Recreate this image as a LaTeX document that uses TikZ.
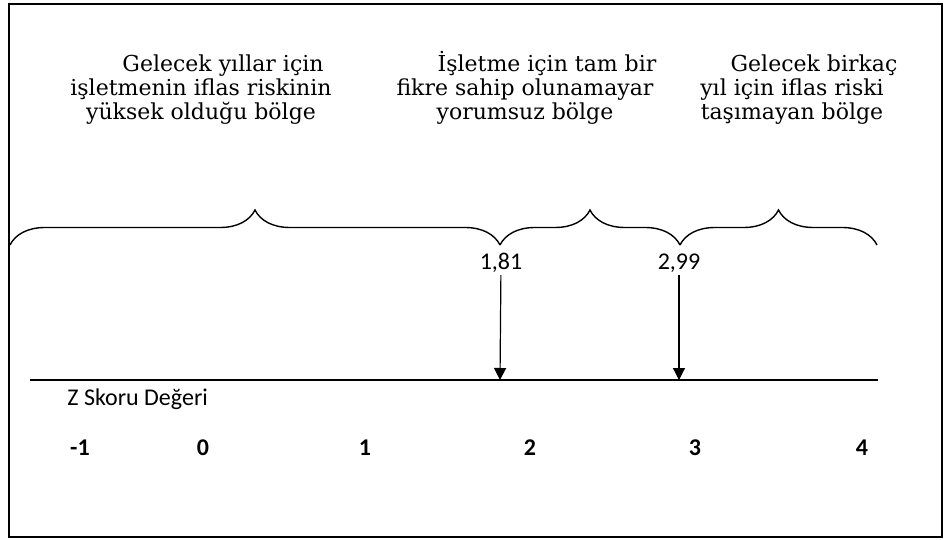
\documentclass[tikz,border=0pt]{standalone}
\usepackage{fontspec}
\usepackage{tikz}
\usetikzlibrary{arrows.meta,positioning,decorations.pathreplacing}
\newfontfamily\zonefont{DejaVu Serif}
\newfontfamily\numfont{Carlito}
\newcommand{\lead}{\hspace*{22pt}}

\begin{document}
\begin{tikzpicture}[
    x=0.5pt,y=-0.5pt,
    frame/.style={draw=black,line width=1.2pt},
    zone/.style={align=center,inner sep=0pt,anchor=base,font=\zonefont\fontsize{11}{12.2}\selectfont},
    zbrace/.style={decorate,decoration={brace,amplitude=17.5pt},line width=0.7pt},
    axis/.style={line width=1pt},
    pointer/.style={-{Triangle[width=6pt,length=6pt]},line width=0.6pt},
    val/.style={inner sep=1pt,font=\numfont\fontsize{12}{14}\selectfont},
    tick/.style={inner sep=0pt,font=\numfont\bfseries\fontsize{12}{14}\selectfont}
  ]
    \useasboundingbox (0,0) rectangle (944,540);
    \draw[frame] (9,4) rectangle (942,537);

    % zone texts (anchored on the last line)
    \node[zone] (high) at (201,120) {\lead Gelecek yıllar için\\işletmenin iflas riskinin\\yüksek olduğu bölge};
    \node[zone] (grey) at (525,120) {\lead İşletme için tam bir\\fikre sahip olunamayar\\yorumsuz bölge};
    \node[zone] (safe) at (792,120) {\lead Gelecek birkaç\\yıl için iflas riski\\taşımayan bölge};

    % brace ends
    \coordinate (b0) at (10,245);
    \coordinate (b1) at (500,245);
    \coordinate (b2) at (680,245);
    \coordinate (b3) at (877,245);
    \draw[zbrace] (b0) -- (b1);
    \draw[zbrace] (b1) -- (b2);
    \draw[zbrace] (b2) -- (b3);

    % z score axis
    \coordinate (ax0) at (30,380);
    \coordinate (ax1) at (878,380);
    \draw[axis] (ax0) -- (ax1);
    \node[val,inner sep=0pt,anchor=base west] (zlabel) at (67,405) {Z Skoru Değeri};
    \foreach \v/\x in {-1/80,0/203,1/365,2/530,3/695,4/862}
      \node[tick] (n\x) at (\x,448) {\v};

    % cut-off values
    \node[val] (v181) at (501,263) {1,81};
    \node[val] (v299) at (679,263) {2,99};
    \coordinate (t181) at (500,380);
    \coordinate (t299) at (679,380);
    \draw[pointer] (v181) -- (t181);
    \draw[pointer] (v299) -- (t299);
  \end{tikzpicture}
\end{document}
